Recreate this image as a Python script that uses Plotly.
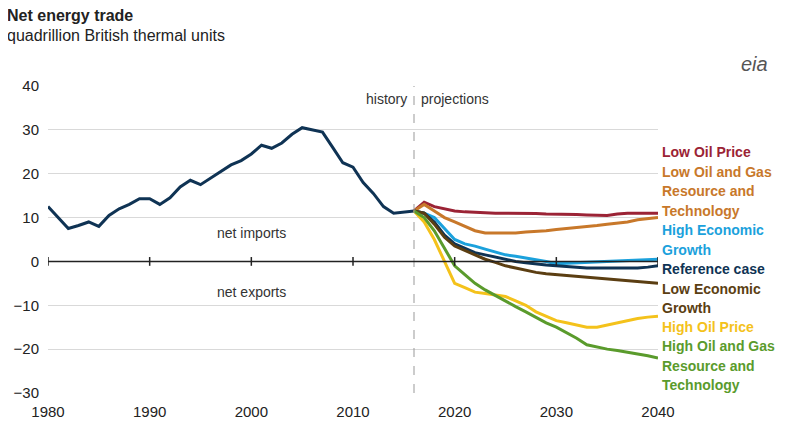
import plotly.graph_objects as go

hist_years = list(range(1980, 2017))
hist = [12.5,10,7.5,8.2,9,8,10.5,12,13,14.3,14.3,13,14.5,17,18.5,17.5,19,20.5,22,23,24.5,26.5,25.8,27,29,30.5,30,29.5,26,22.5,21.5,18,15.5,12.5,11,11.2,11.5]
proj_years = list(range(2016, 2041))
series = {
 "Low Oil Price": ("#9b2335", [11.5,13.5,12.5,12,11.5,11.3,11.2,11,11,11,11,11,10.9,10.8,10.8,10.8,10.7,10.6,10.5,10.5,10.8,11,11,11,11]),
 "Low Oil and Gas Resource and Technology": ("#c8782a", [11.5,13,11.5,10,9,8,7,6.5,6.5,6.5,6.5,6.7,6.8,7,7.3,7.5,7.8,8,8.2,8.5,8.8,9,9.5,9.8,10]),
 "High Economic Growth": ("#1ba1dc", [11.5,11,10,7.5,5,4,3.5,2.8,2.2,1.5,1.2,0.8,0.5,0,-0.5,-0.4,-0.3,-0.2,0,0,0.2,0.3,0.4,0.5,0.5]),
 "Reference case": ("#0f3354", [11.5,11,9,6,4,3,2,1.5,1,0.5,0,-0.3,-0.6,-0.8,-1,-1.2,-1.4,-1.5,-1.5,-1.5,-1.5,-1.5,-1.5,-1.3,-1]),
 "Low Economic Growth": ("#5b3e12", [11.5,11,8.5,5.5,3.5,2.5,1.5,0.5,-0.2,-1,-1.5,-2,-2.5,-2.8,-3,-3.2,-3.4,-3.6,-3.8,-4,-4.2,-4.4,-4.6,-4.8,-5]),
 "High Oil Price": ("#f4c21b", [11.5,9,5,0,-5,-6,-7,-7.3,-7.6,-8,-9,-10,-11.5,-12.5,-13.5,-14,-14.5,-15,-15,-14.5,-14,-13.5,-13,-12.7,-12.5]),
 "High Oil and Gas Resource and Technology": ("#5a9b2c", [11.5,10,7,3,-1,-3,-5,-6.5,-7.8,-9,-10.3,-11.5,-12.7,-14,-15,-16.3,-17.5,-19,-19.5,-20,-20.3,-20.7,-21,-21.5,-22]),
}

fig = go.Figure()
fig.add_trace(go.Scatter(x=hist_years, y=hist, mode="lines", line=dict(color="#0f3354", width=3), showlegend=False))
for name, (c, v) in series.items():
    fig.add_trace(go.Scatter(x=proj_years, y=v, mode="lines", line=dict(color=c, width=3), showlegend=False))

labels = [(["Low Oil Price"], "#9b2335", [151]),
          (["Low Oil and Gas", "Resource and", "Technology"], "#c8782a", [171, 190, 210]),
          (["High Economic", "Growth"], "#1ba1dc", [229, 249]),
          (["Reference case"], "#0f3354", [268]),
          (["Low Economic", "Growth"], "#5b3e12", [288, 307]),
          (["High Oil Price"], "#f4c21b", [326]),
          (["High Oil and Gas", "Resource and", "Technology"], "#5a9b2c", [345, 365, 384])]
PW, PH, T = 610, 307, 85
for lines, c, ys in labels:
    for t, py in zip(lines, ys):
        fig.add_annotation(xref="paper", yref="paper", x=1, y=1 - (py - T) / PH,
                           text="<b>" + t + "</b>", showarrow=False, xanchor="left", yanchor="middle",
                           font=dict(size=14, color=c), xshift=2)

fig.add_shape(type="line", x0=2016, x1=2016, y0=-30, y1=40, line=dict(color="#999", width=1, dash="dash"))
fig.add_shape(type="line", x0=1980, x1=2040, y0=0, y1=0, line=dict(color="#222", width=1.5))
for yr in range(1980, 2041, 10):
    fig.add_shape(type="line", x0=yr, x1=yr, y0=-1, y1=1, line=dict(color="#222", width=1.5))
fig.add_annotation(x=2016, y=43.5, text="<b>2016</b>", showarrow=False, font=dict(size=14, color="#222"))
fig.add_annotation(x=2015.5, y=37, text="history", showarrow=False, xanchor="right", font=dict(size=14, color="#333"))
fig.add_annotation(x=2016.5, y=37, text="projections", showarrow=False, xanchor="left", font=dict(size=14, color="#333"))
fig.add_annotation(x=2000, y=6.5, text="net imports", showarrow=False, font=dict(size=14, color="#333"))
fig.add_annotation(x=2000, y=-7, text="net exports", showarrow=False, font=dict(size=14, color="#333"))
fig.add_annotation(xref="paper", yref="paper", x=-43 / PW, y=1 + (T - 4) / PH, text="<b>Net energy trade</b>", showarrow=False,
                   xanchor="left", yanchor="top", font=dict(size=16, color="#222"))
fig.add_annotation(xref="paper", yref="paper", x=-43 / PW, y=1 + (T - 24) / PH, text="quadrillion British thermal units", showarrow=False,
                   xanchor="left", yanchor="top", font=dict(size=16, color="#222"))
fig.add_annotation(xref="paper", yref="paper", x=1 + (770 - 658) / PW, y=1 + (T - 50) / PH, text="<i>eia</i>", showarrow=False,
                   font=dict(size=20, color="#555"))

fig.update_layout(width=800, height=445, margin=dict(l=40, r=150, t=78, b=60),
                  plot_bgcolor="white", paper_bgcolor="white", font=dict(family="Arial", size=14, color="#222"))
fig.update_xaxes(range=[1980, 2040], tickvals=list(range(1980, 2041, 10)), showgrid=False, zeroline=False,
                 showline=False, tickfont=dict(size=15), ticklabelstandoff=8, automargin=False)
fig.update_yaxes(range=[-30, 40], dtick=10, gridcolor="#d9d9d9", zeroline=False, tickfont=dict(size=15),
                 ticklabelstandoff=8, automargin=False)
fig.write_html("out.html")
